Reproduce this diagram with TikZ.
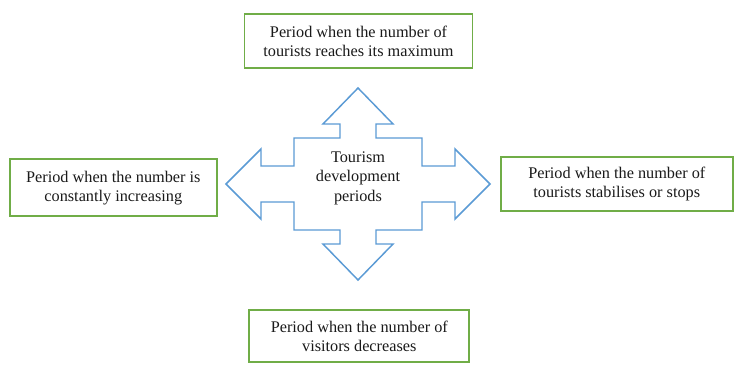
\documentclass[tikz,border=0pt]{standalone}
\usepackage{fontspec}
\setmainfont{Liberation Serif}
\definecolor{boxgreen}{HTML}{70AD47}
\definecolor{crossblue}{HTML}{5B9BD5}
\definecolor{txt}{HTML}{1A1A1A}
\begin{document}
\begin{tikzpicture}[x=0.75pt,y=-0.75pt,
  periodbox/.style={draw=boxgreen,line width=1.4pt,fill=white,align=center,
    text=txt,inner sep=0pt,font=\fontsize{12.2}{14.2}\selectfont},
  crossline/.style={draw=crossblue,line width=1.1pt,line join=miter}]
\useasboundingbox (0,0) rectangle (740,370);
\fill[white] (0,0) rectangle (740,370);
% cross-shaped four-way arrow
\coordinate (tip) at (358,88);
\draw[crossline] (tip) -- ++(35,36) -- ++(-17,0) -- ++(0,14) -- ++(46,0)
  -- ++(0,28) -- ++(33,0) -- ++(0,-17) -- ++(35,35) -- ++(-35,35) -- ++(0,-17)
  -- ++(-33,0) -- ++(0,28) -- ++(-46,0) -- ++(0,14) -- ++(17,0) -- ++(-35,36)
  -- ++(-35,-36) -- ++(17,0) -- ++(0,-14) -- ++(-46,0) -- ++(0,-28) -- ++(-33,0)
  -- ++(0,17) -- ++(-35,-35) -- ++(35,-35) -- ++(0,17) -- ++(33,0) -- ++(0,-28)
  -- ++(46,0) -- ++(0,-14) -- ++(-17,0) -- cycle;
\node[align=center,text=txt,font=\fontsize{12.2}{14.6}\selectfont] (center) at (358,178)
  {Tourism\\development\\periods};
\node[periodbox,minimum width=171pt,minimum height=40.5pt] (top) at (358.5,41)
  {Period when the number of\\tourists reaches its maximum};
\node[periodbox,minimum width=155pt,minimum height=42.5pt] (left) at (113.3,187.7)
  {Period when the number is\\constantly increasing};
\node[periodbox,minimum width=174pt,minimum height=40pt] (right) at (616.8,184)
  {Period when the number of\\tourists stabilises or stops};
\node[periodbox,minimum width=165pt,minimum height=38.5pt] (bottom) at (359.3,336)
  {Period when the number of\\visitors decreases};
\end{tikzpicture}
\end{document}
